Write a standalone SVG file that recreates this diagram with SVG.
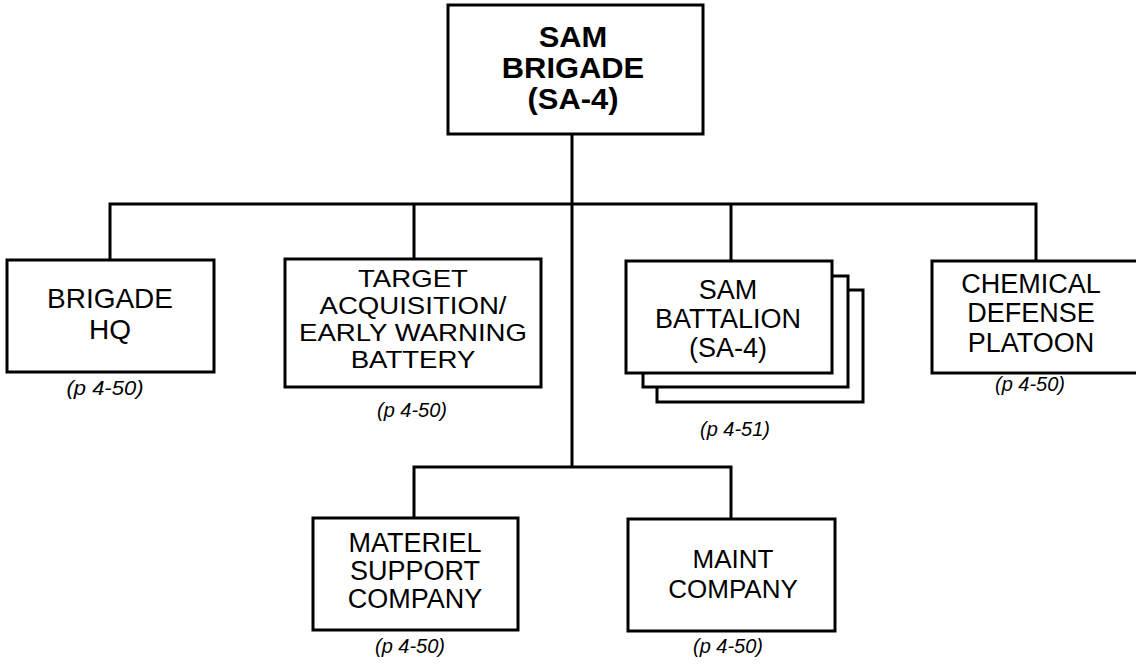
<svg xmlns="http://www.w3.org/2000/svg" width="1136" height="668" viewBox="0 0 1136 668">
<style>
  .box { fill: #fff; stroke: #000; stroke-width: 3; }
  .conn { fill: none; stroke: #000; stroke-width: 3; }
  .t { font-family: "Liberation Sans", Arial, sans-serif; text-anchor: middle; fill: #000; }
  .tb { font-family: "Liberation Sans", Arial, sans-serif; text-anchor: middle; fill: #000; font-weight: bold; font-size: 30px; }
  .ref { font-family: "Liberation Sans", Arial, sans-serif; text-anchor: middle; fill: #000; font-style: italic; font-size: 20px; }
</style>
<rect width="1136" height="668" fill="#fff"/>
<g id="connectors">
  <path class="conn" d="M572 134 V467"/>
  <path class="conn" d="M110 260 V204 H1036 V261"/>
  <path class="conn" d="M414 204 V259"/>
  <path class="conn" d="M731 204 V261"/>
  <path class="conn" d="M414 518 V467 H731 V519"/>
</g>
<g id="sam-brigade">
  <rect class="box" x="448" y="5" width="255" height="129"/>
  <g transform="translate(573 0) scale(1.03 1)">
    <text class="tb" x="0" y="47">SAM</text>
    <text class="tb" x="0" y="78">BRIGADE</text>
    <text class="tb" x="0" y="109">(SA-4)</text>
  </g>
</g>
<g id="brigade-hq">
  <rect class="box" x="7" y="260" width="207" height="112"/>
  <text class="t" font-size="28" x="110" y="308">BRIGADE</text>
  <text class="t" font-size="28" x="110" y="339">HQ</text>
  <text class="ref" x="105" y="395" transform="translate(105 0) scale(1.1 1) translate(-105 0)">(p 4-50)</text>
</g>
<g id="target-acquisition">
  <rect class="box" x="285" y="259" width="256" height="128"/>
  <g transform="translate(413 0) scale(1.15 1)">
    <text class="t" font-size="24" x="0" y="287">TARGET</text>
    <text class="t" font-size="24" x="0" y="314">ACQUISITION/</text>
    <text class="t" font-size="24" x="0" y="341">EARLY WARNING</text>
    <text class="t" font-size="24" x="0" y="368">BATTERY</text>
  </g>
  <text class="ref" x="412" y="417">(p 4-50)</text>
</g>
<g id="sam-battalion">
  <rect class="box" x="657" y="290" width="206" height="112"/>
  <rect class="box" x="643" y="276" width="205" height="111"/>
  <rect class="box" x="626" y="261" width="206" height="112"/>
  <text class="t" font-size="27" x="728" y="299">SAM</text>
  <text class="t" font-size="27" x="728" y="328">BATTALION</text>
  <text class="t" font-size="27" x="728" y="357">(SA-4)</text>
  <text class="ref" x="735" y="436">(p 4-51)</text>
</g>
<g id="chemical-defense">
  <rect class="box" x="932" y="261" width="210" height="112"/>
  <text class="t" font-size="27" x="1031" y="293">CHEMICAL</text>
  <text class="t" font-size="27" x="1031" y="322">DEFENSE</text>
  <text class="t" font-size="27" x="1031" y="352">PLATOON</text>
  <text class="ref" x="1030" y="391">(p 4-50)</text>
</g>
<g id="materiel-support">
  <rect class="box" x="313" y="518" width="205" height="112"/>
  <text class="t" font-size="27" x="415" y="552">MATERIEL</text>
  <text class="t" font-size="27" x="415" y="580">SUPPORT</text>
  <text class="t" font-size="27" x="415" y="608">COMPANY</text>
  <text class="ref" x="410" y="653">(p 4-50)</text>
</g>
<g id="maint-company">
  <rect class="box" x="628" y="519" width="207" height="112"/>
  <text class="t" font-size="26" x="733" y="568">MAINT</text>
  <text class="t" font-size="26" x="733" y="598">COMPANY</text>
  <text class="ref" x="728" y="653">(p 4-50)</text>
</g>
</svg>
